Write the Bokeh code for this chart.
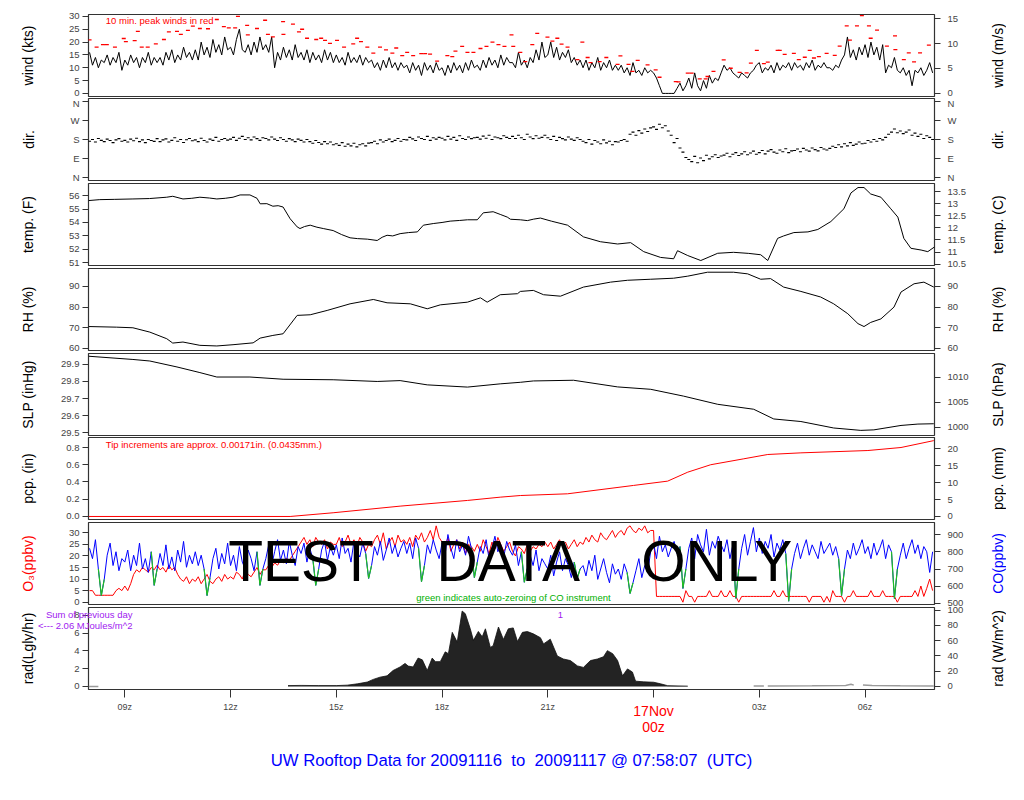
import numpy as np
from bokeh.plotting import figure
from bokeh.models import Range1d, LinearAxis, FixedTicker, Label, Title
from bokeh.layouts import column, row
from bokeh.embed import file_html
from bokeh.resources import INLINE

FONT = "Liberation Sans"

# ---------------- data (hours from 2009-11-16 00z) ----------------
# 5-minute grid starting 08z
wind_kts = [
    16,11,14,10,13,12,15,11,14,12,16,9,
    13,11,15,12,14,10,14,12,16,11,14,12,
    14,11,16,13,17,12,15,13,18,14,16,13,
    17,13,20,15,18,14,21,16,19,15,22,17,
    18,15,21,25,17,16,19,15,20,16,22,17,
    19,16,22,10,16,13,18,14,17,13,19,14,
    16,13,17,12,16,13,15,12,17,13,16,12,
    15,12,14,11,16,12,14,12,15,11,14,12,
    13,10,12,9,13,10,14,10,12,9,12,10,
    11,8,12,9,11,7,12,9,11,8,12,9,
    10,7,11,8,12,9,11,8,12,9,13,10,
    11,9,13,10,14,11,13,10,15,11,14,12,
    12,10,16,11,13,10,14,12,17,13,20,14,
    15,20,14,18,13,16,14,17,12,14,11,13,
    10,13,9,12,10,14,9,12,10,13,9,11,
    9,11,8,10,7,12,8,9,7,10,8,9,
    8,6,3,0,0,0,0,0,2,4,1,3,
    6,2,8,3,1,5,2,7,4,6,5,8,
    11,9,10,8,7,6,8,7,6,8,9,11,
    12,8,10,9,11,8,12,9,11,10,12,9,
    12,10,11,9,12,10,13,9,11,10,12,10,
    10,9,11,10,13,15,22,14,17,13,18,15,
    19,14,20,15,18,13,19,8,11,10,14,9,
    8,10,7,9,3,9,8,10,7,9,12,8,
]

peak_t = [8.0,8.20,8.38,8.49,8.72,8.97,9.03,9.28,9.37,9.48,9.65,9.88,10.11,10.25,10.48,10.59,
          10.79,10.93,11.13,11.36,11.61,11.81,11.95,12.13,12.21,12.47,12.49,12.75,12.98,13.06,
          13.20,13.49,13.50,13.77,13.94,14.03,14.17,14.43,14.57,14.68,14.82,15.02,15.22,15.48,
          15.59,15.70,15.88,16.05,16.24,16.41,16.59,16.70,16.87,17.01,17.18,17.41,17.52,17.66,
          17.86,18.15,18.29,18.38,18.57,18.72,18.89,19.09,19.26,19.43,19.60,19.77,19.97,20.02,
          20.22,20.36,20.56,20.70,20.99,21.13,21.27,21.39,21.56,21.84,21.98,22.13,22.21,22.47,
          22.66,22.98,23.06,23.29,23.40,23.55,23.83,24.06,24.17,24.63,24.71,24.97,25.08,25.31,
          25.48,25.53,25.70,25.99,26.19,26.44,26.64,26.76,26.93,27.13,27.24,27.52,27.58,27.72,
          27.98,28.12,28.29,28.43,28.55,28.69,28.91,29.14,29.28,29.48,29.57,29.77,29.91,30.11,
          30.16,30.34,30.62,30.85,30.86,31.10,31.24,31.39,31.56,31.81]
peak_kts = [20.9,18,19,19,18,21.4,20.2,20.6,24.2,18,18,19.3,21,24,24.2,23,
            24.6,26.2,25.3,25.2,28.8,26,25.5,25.5,30,26.5,22.8,25.3,28.5,23,
            22,28,23,27,24,25,21.5,21,21.5,20.7,19.5,20.7,18,19.3,
            21.5,20.2,18,15.7,18,17,15.7,17.7,14.7,16,14.7,15.5,15.5,15.3,
            12.6,14.7,14.3,16.5,18.3,16,16,17.5,18.3,20,19,18.3,22.8,18.3,
            16,12.4,19,23.4,21.9,20.4,21.5,19.2,18,13.2,20,14,12,12.4,
            14,11.3,14.6,11.3,8.6,12.9,11.1,9.2,6.3,4.6,4.5,7.9,7.9,5.7,
            5.7,6.6,8.6,13.1,9.8,8.2,8,11.8,16.8,11.6,12.2,16.8,16.8,15.2,
            15.6,13.2,14.1,16.8,13.8,14.3,15.6,14.8,18.4,26.3,20.8,26.3,30.3,26.3,
            21.5,24.7,18.4,22.4,17.1,13.2,15.8,12.3,15.8,18.8]

wind_dir = [
    172,180,168,185,176,170,182,175,165,178,184,172,
    176,168,182,174,186,170,178,165,180,175,171,184,
    170,178,183,168,176,188,172,180,166,179,185,174,
    178,170,186,175,168,182,176,190,172,180,185,177,
    182,190,176,186,195,180,188,178,192,184,176,188,
    185,178,192,182,175,188,180,172,184,178,170,182,
    176,168,180,170,162,175,166,158,170,160,168,155,
    160,152,165,148,158,150,162,145,155,160,150,163,
    165,172,160,178,168,175,182,170,176,185,172,180,
    178,190,183,175,192,185,180,195,176,188,182,190,
    186,178,195,182,190,176,198,185,180,192,184,188,
    190,182,196,186,200,180,192,188,184,198,190,185,
    195,185,200,188,180,205,192,184,198,186,190,200,
    188,180,195,175,190,184,178,192,182,176,188,180,
    172,165,180,158,175,168,160,178,164,172,155,170,
    168,175,180,172,205,215,200,222,210,230,218,235,
    240,228,252,236,245,220,200,165,185,140,120,95,
    85,75,100,70,92,80,105,88,98,108,95,102,
    106,115,98,110,118,104,112,122,108,116,125,110,
    118,128,112,125,132,120,115,130,122,136,118,126,
    128,135,122,138,130,125,140,132,126,142,135,130,
    138,148,142,155,145,160,150,165,152,158,168,160,
    162,175,168,180,172,185,178,190,205,215,230,212,
    220,208,215,225,200,210,195,205,185,198,190,180,
]

temp_t = [7.97,8.29,8.7,9.23,9.7,10.19,10.36,10.65,10.9,11.13,11.4,11.61,11.85,12.07,12.27,12.55,
          12.75,12.84,13.03,13.2,13.35,13.49,13.69,13.89,13.97,14.1,14.26,14.45,14.63,14.91,15.15,
          15.39,15.6,15.88,16.16,16.3,16.44,16.6,16.81,17.05,17.3,17.47,17.75,18.0,18.23,18.5,18.72,
          19.0,19.17,19.45,19.65,19.85,19.94,20.22,20.42,20.6,20.79,21.1,21.56,22.01,22.49,22.98,
          23.35,23.72,24.2,24.57,24.68,24.97,25.34,25.82,26.27,26.7,27.04,27.24,27.52,27.69,27.98,
          28.38,28.66,29.03,29.4,29.6,29.8,29.97,30.16,30.45,30.73,30.93,31.1,31.3,31.59,31.78,31.97]
temp_f = [55.63,55.7,55.72,55.75,55.78,55.88,55.95,55.75,55.8,55.88,55.82,55.75,55.8,55.88,56.05,56.05,
          55.8,55.39,55.4,55.21,55.25,55.15,54.28,53.67,53.55,53.7,53.8,53.65,53.55,53.4,53.1,
          52.86,52.8,52.76,52.66,52.9,53.05,53.0,53.17,53.25,53.3,53.8,53.92,54.0,54.1,54.15,54.2,
          54.2,54.72,54.8,54.6,54.4,54.24,54.2,54.14,54.25,54.33,54.1,53.8,52.93,52.57,52.4,
          52.5,51.83,51.4,51.3,51.9,51.54,51.17,51.71,51.78,51.7,51.6,51.17,52.82,53.0,53.25,
          53.3,53.48,54.07,55.02,56.2,56.6,56.6,56.12,55.88,55.02,54.4,52.82,52.08,51.95,51.83,52.18]

rh_t = [7.97,8.77,9.23,9.71,10.19,10.36,10.65,11.13,11.61,12.07,12.64,12.84,13.2,13.49,13.89,14.26,
        14.74,15.39,16.05,16.44,17.1,17.58,17.95,18.72,19.09,19.28,19.65,20.14,20.22,20.59,20.88,
        21.36,22.01,22.78,23.26,23.92,24.57,24.97,25.53,26.27,26.67,27.04,27.32,27.69,28.18,28.74,
        29.11,29.51,29.8,29.97,30.16,30.45,30.82,31.02,31.39,31.67,31.95]
rh_pct = [70.6,70.3,70.0,67.9,64.7,62.6,63.1,61.5,61.2,61.8,62.7,65.0,66.3,67.1,76.0,76.3,
          78.4,81.6,83.7,82.1,81.6,79.2,81.1,82.4,84.5,82.4,86.0,86.5,87.6,88.1,86.0,
          85.3,89.7,92.1,93.0,93.5,94.0,95.0,96.9,96.9,96.1,93.5,93.8,89.7,87.6,84.9,
          81.6,76.8,72.0,70.6,72.6,74.3,80.0,87.3,91.3,92.1,89.7]

slp_t = [7.97,9.23,9.71,10.48,11.13,11.61,12.55,13.49,14.91,16.16,16.81,17.58,18.72,19.65,20.22,
         20.59,21.73,22.98,23.92,24.85,25.82,26.84,27.41,28.18,29.11,29.88,30.25,31.02,31.5,31.95]
slp_inhg = [29.948,29.929,29.92,29.885,29.852,29.826,29.826,29.813,29.81,29.80,29.805,29.78,29.767,
            29.786,29.795,29.803,29.807,29.768,29.754,29.714,29.666,29.637,29.58,29.565,29.527,
            29.513,29.516,29.542,29.55,29.552]

pcp_t = [7.97,13.69,14.91,16.81,18.72,19.65,20.22,21.56,23.43,24.4,24.97,25.62,26.56,27.24,28.18,
         30.08,31.02,31.95]
pcp_in = [0,0,0.043,0.12,0.186,0.224,0.243,0.263,0.36,0.41,0.514,0.60,0.669,0.719,0.738,
          0.765,0.80,0.88]

o3_ppbv = [
    5,5,3,3,3,3,3,3,3,5,6,5,
    7,5,8,12,14,13,15,14,13,15,14,16,
    14,15,13,16,14,15,12,10,9,11,8,10,
    9,11,8,10,12,9,8,10,11,9,12,10,
    11,10,13,12,10,14,12,11,13,15,12,14,
    14,16,15,17,16,18,17,19,18,20,22,24,
    26,28,25,27,24,28,26,25,27,23,26,25,
    25,28,24,26,29,25,27,24,28,26,22,25,
    24,27,29,25,30,23,26,28,24,29,26,27,
    25,28,24,29,27,30,26,28,31,27,33,28,
    26,24,28,22,25,27,23,26,21,25,24,22,
    25,22,27,24,21,26,23,28,25,22,24,26,
    22,20,24,23,21,25,22,24,23,25,24,26,
    24,26,23,25,27,24,26,23,25,27,24,26,
    25,28,26,29,27,26,30,28,27,29,31,28,
    30,31,29,32,33,31,30,32,31,33,30,31,
    31,2.5,2.5,2.5,2.5,2.5,2.5,2.5,2.5,2.5,0,5,
    2.5,2.5,0,2.5,2.5,2.5,2.5,5,2.5,2.5,2.5,5,
    2.5,2.5,5,2.5,2.5,0,2.5,2.5,2.5,2.5,2.5,2.5,
    2.5,2.5,2.5,2.5,2.5,5,2.5,2.5,5,2.5,2.5,2.5,
    2.5,2.5,2.5,2.5,2.5,0,2.5,2.5,2.5,2.5,0,2.5,
    0,5,2.5,2.5,2.5,0,2.5,2.5,5,2.5,2.5,2.5,
    2.5,2.5,5,2.5,2.5,2.5,5,2.5,2.5,2.5,2.5,0,
    2.5,2.5,2.5,2.5,2.5,5,2.5,7,2.5,6,10,5,
]

co_ppbv = [
    820,760,870,700,546,640,780,850,720,800,690,760,
    740,810,690,780,720,850,700,760,680,800,605,700,
    790,720,840,700,770,690,810,740,860,710,780,730,
    800,720,780,700,546,650,760,820,700,790,730,850,
    720,780,690,830,740,700,810,760,690,800,605,700,
    760,840,720,800,870,750,810,730,860,780,720,830,
    790,850,740,820,760,605,700,810,860,750,830,780,
    840,760,880,790,820,740,860,800,770,850,790,645,
    720,830,780,860,750,810,880,790,840,770,820,860,
    790,850,760,880,820,627,720,840,790,870,810,760,
    850,780,900,820,760,870,800,840,780,890,820,650,
    740,830,790,870,760,820,890,800,840,770,860,810,
    780,840,720,800,623,700,780,720,810,690,760,730,
    700,780,660,740,800,690,760,720,650,740,645,700,
    720,660,750,690,780,640,700,760,680,620,730,670,
    700,640,730,680,558,620,690,760,650,720,680,800,
    850,760,890,800,840,770,820,860,790,830,587,700,
    820,880,760,900,840,800,930,780,860,820,890,840,
    800,870,760,840,530,700,820,900,780,860,940,800,
    880,790,860,820,900,770,850,810,870,790,513,700,
    790,850,760,820,870,780,840,800,760,860,790,820,
    850,780,830,760,546,700,810,760,850,780,820,870,
    790,830,760,850,780,820,870,760,840,800,529,700,
    780,850,760,820,870,790,840,760,830,800,680,800,
]
co_zero_t = [8.333,9.833,11.333,12.833,14.417,15.917,17.417,18.917,20.333,21.833,
             23.333,24.833,26.333,27.833,29.333,30.833]

rad_t = [13.63,14.0,14.5,15.0,15.31,15.6,15.88,16.05,16.24,16.44,16.61,16.81,16.95,17.04,17.18,
         17.32,17.44,17.58,17.72,17.81,17.95,18.09,18.18,18.29,18.43,18.57,18.66,18.80,18.89,19.03,
         19.14,19.23,19.37,19.45,19.60,19.74,19.88,20.02,20.14,20.28,20.42,20.59,20.79,20.88,21.07,
         21.27,21.44,21.64,21.84,22.01,22.21,22.41,22.58,22.69,22.84,22.98,23.12,23.26,23.40,23.49,
         23.72,24.0,24.20,24.40,24.97]
rad_lgly = [0.1,0.12,0.1,0.1,0.15,0.3,0.5,0.8,1.05,1.2,1.8,2.2,2.6,2.3,2.2,
            3.2,3.0,1.8,3.2,2.8,2.8,3.9,3.7,6.1,5.0,8.5,8.2,6.5,5.2,6.2,
            5.6,6.5,4.4,4.6,6.7,5.3,6.5,6.6,5.07,6.1,6.19,5.93,5.5,4.8,5.33,
            3.44,3.1,2.92,2.32,2.15,2.92,3.1,3.35,4.04,3.7,2.92,1.2,1.98,1.63,0.6,
            0.52,0.48,0.3,0.09,0.04]
rad_night_t = [7.97,8.25,np.nan,26.84,27.13,np.nan,27.24,28.5,29.45,29.6,29.68,np.nan,29.94,30.2,31.0,31.95]
rad_night_lgly = [0,0,np.nan,0.05,0.05,np.nan,0.05,0.07,0.12,0.25,0.15,np.nan,0.18,0.12,0.08,0.06]

x_ticks = [9, 12, 15, 18, 21, 24, 27, 30]
x_tick_labels = ["09z", "12z", "15z", "18z", "21z", "", "03z", "06z"]

# ---------------- helpers ----------------
FW, FH = 846, 82
xr = Range1d(7.97, 31.97)
PURPLE = "#A020F0"


def base_fig(yr, top, bottom):
    p = figure(frame_width=FW, frame_height=FH, x_range=xr, y_range=Range1d(*yr),
               min_border_left=88, min_border_right=40, min_border_top=top, min_border_bottom=bottom,
               x_axis_location=None, y_axis_location=None, toolbar_location=None,
               output_backend="svg", title=None)
    p.grid.visible = False
    p.outline_line_color = "#333333"
    p.outline_line_width = 1.2
    p.background_fill_color = "white"
    p.border_fill_color = "white"
    return p


def style_ticks(ax, size="9.5px"):
    ax.major_label_text_font = FONT
    ax.major_label_text_font_size = size
    ax.major_tick_out = 6
    ax.major_tick_in = 0
    ax.minor_tick_out = 0
    ax.minor_tick_in = 0
    ax.axis_line_color = None
    ax.major_tick_line_color = "#333333"


def add_left(p, ticks, labels, title, als, color="black"):
    ax = LinearAxis()
    ax.ticker = FixedTicker(ticks=[float(t) for t in ticks])
    ax.major_label_overrides = {float(t): l for t, l in zip(ticks, labels)}
    style_ticks(ax)
    ax.major_label_standoff = 3
    ax.axis_label = title
    ax.axis_label_standoff = als
    ax.axis_label_text_font = FONT
    ax.axis_label_text_font_size = "14px"
    ax.axis_label_text_font_style = "normal"
    ax.axis_label_text_color = color
    p.add_layout(ax, "left")


def add_right(p, ticks, labels, rname="default"):
    ax = LinearAxis(y_range_name=rname)
    ax.ticker = FixedTicker(ticks=[float(t) for t in ticks])
    ax.major_label_overrides = {float(t): l for t, l in zip(ticks, labels)}
    style_ticks(ax)
    ax.major_label_standoff = 7
    p.add_layout(ax, "right")


def title_strip(text, top, bottom, color="black"):
    # narrow companion plot whose (left) axis title sits right of the main panel,
    # reading bottom-to-top like the reference's right-hand titles
    f = figure(frame_width=1, frame_height=FH, x_range=Range1d(0, 1), y_range=Range1d(0, 1),
               min_border_left=31, min_border_right=0, min_border_top=top, min_border_bottom=bottom,
               x_axis_location=None, y_axis_location=None, toolbar_location=None,
               output_backend="svg", title=None)
    f.grid.visible = False
    f.outline_line_color = None
    f.border_fill_color = "white"
    ax = LinearAxis(ticker=FixedTicker(ticks=[]))
    ax.major_tick_out = 0
    ax.major_tick_in = 0
    ax.minor_tick_out = 0
    ax.minor_tick_in = 0
    ax.major_label_standoff = 0
    ax.axis_line_color = None
    ax.axis_label = text
    ax.axis_label_standoff = 0
    ax.axis_label_text_font = FONT
    ax.axis_label_text_font_size = "14px"
    ax.axis_label_text_font_style = "normal"
    ax.axis_label_text_color = color
    f.add_layout(ax, "left")
    return f


def note(p, x, y, text, color="black", size="9.5px", align="left", baseline="middle"):
    p.add_layout(Label(x=x, y=y, text=text, text_color=color, text_font=FONT,
                       text_font_size=size, text_align=align, text_baseline=baseline))


grid_t = 8.0 + np.arange(len(wind_kts)) / 12.0
KT2MS = 0.514444

# borders (top, bottom) per panel, keeping the reference's panel spacing
B = [(14, 1), (1, 3), (0, 3), (0, 3), (0, 2), (0, 3), (0, 2), (1, 4)]

# 1 wind
wr = (-1.2, 30.75)
p1 = base_fig(wr, *B[0])
p1.extra_y_ranges = {"ms": Range1d(wr[0] * KT2MS, wr[1] * KT2MS)}
add_left(p1, [0, 5, 10, 15, 20, 25, 30], ["0", "5", "10", "15", "20", "25", "30"], "wind (kts)", 30)
add_right(p1, [0, 5, 10, 15], ["0", "5", "10", "15"], rname="ms")
p1.line(grid_t, wind_kts, line_color="black", line_width=1)
p1.scatter(peak_t, peak_kts, marker="dash", size=4, line_color="red", line_width=1.3)
note(p1, 8.46, 28.4, "10 min. peak winds in red", color="red")
r1 = row(p1, title_strip("wind (m/s)", *B[0]), spacing=0)

# 2 dir
dr = (-14.4, 374.4)
p2 = base_fig(dr, *B[1])
add_left(p2, [0, 90, 180, 270, 360], ["N", "E", "S", "W", "N"], "dir.", 31)
add_right(p2, [0, 90, 180, 270, 360], ["N", "E", "S", "W", "N"])
t_dir = 8.0 + np.arange(len(wind_dir)) / 12.0
p2.scatter(t_dir, wind_dir, marker="dash", size=3, line_color="black", line_width=1.1)
r2 = row(p2, title_strip("dir.", *B[1]), spacing=0)

# 3 temp
tr = (50.8, 56.9)
p3 = base_fig(tr, *B[2])
p3.extra_y_ranges = {"c": Range1d((tr[0] - 32) * 5 / 9, (tr[1] - 32) * 5 / 9)}
add_left(p3, [51, 52, 53, 54, 55, 56], ["51", "52", "53", "54", "55", "56"], "temp. (F)", 30)
add_right(p3, [10.5, 11, 11.5, 12, 12.5, 13, 13.5],
          ["10.5", "11", "11.5", "12", "12.5", "13", "13.5"], rname="c")
p3.line(temp_t, temp_f, line_color="black", line_width=1)
r3 = row(p3, title_strip("temp. (C)", *B[2]), spacing=0)

# 4 RH
rr = (59.0, 98.7)
p4 = base_fig(rr, *B[3])
add_left(p4, [60, 70, 80, 90], ["60", "70", "80", "90"], "RH (%)", 30)
add_right(p4, [60, 70, 80, 90], ["60", "70", "80", "90"])
p4.line(rh_t, rh_pct, line_color="black", line_width=1)
r4 = row(p4, title_strip("RH (%)", *B[3]), spacing=0)

# 5 SLP
sr = (29.483, 29.964)
INHG2HPA = 33.8639
p5 = base_fig(sr, *B[4])
p5.extra_y_ranges = {"hpa": Range1d(sr[0] * INHG2HPA, sr[1] * INHG2HPA)}
add_left(p5, [29.5, 29.6, 29.7, 29.8, 29.9], ["29.5", "29.6", "29.7", "29.8", "29.9"], "SLP (inHg)", 22)
add_right(p5, [1000, 1005, 1010], ["1000", "1005", "1010"], rname="hpa")
p5.line(slp_t, slp_inhg, line_color="black", line_width=1)
r5 = row(p5, title_strip("SLP (hPa)", *B[4]), spacing=0)

# 6 pcp
pr = (-0.035, 0.916)
p6 = base_fig(pr, *B[5])
p6.extra_y_ranges = {"mm": Range1d(pr[0] * 25.4, pr[1] * 25.4)}
add_left(p6, [0.0, 0.2, 0.4, 0.6, 0.8], ["0.0", "0.2", "0.4", "0.6", "0.8"], "pcp. (in)", 27)
add_right(p6, [0, 5, 10, 15, 20], ["0", "5", "10", "15", "20"], rname="mm")
p6.line(pcp_t, pcp_in, line_color="red", line_width=1)
note(p6, 8.46, 0.835, "Tip increments are approx. 0.00171in. (0.0435mm.)", color="red")
r6 = row(p6, title_strip("pcp. (mm)", *B[5]), spacing=0)

# 7 O3 / CO
orr = (-0.99, 34.45)
p7 = base_fig(orr, *B[6])
p7.extra_y_ranges = {"co": Range1d(494.2, 969.6)}
add_left(p7, [0, 5, 10, 15, 20, 25, 30], ["0", "5", "10", "15", "20", "25", "30"],
         "O\u2083(ppbv)", 30, color="red")
add_right(p7, [500, 600, 700, 800, 900], ["500", "600", "700", "800", "900"], rname="co")
t_o3 = 8.0 + np.arange(len(o3_ppbv)) / 12.0
t_co = 8.0 + np.arange(len(co_ppbv)) / 12.0
co_arr = np.array(co_ppbv, dtype=float)
mask = np.zeros(len(t_co), dtype=bool)
for z in co_zero_t:
    mask |= np.abs(t_co - z) < 0.09
co_green = np.where(mask, co_arr, np.nan)
p7.line(t_o3, o3_ppbv, line_color="red", line_width=1)
p7.line(t_co, co_arr, line_color="blue", line_width=1, y_range_name="co")
p7.line(t_co, co_green, line_color="#1FBF1F", line_width=1.2, y_range_name="co")
note(p7, 17.27, 2.0, "green indicates auto-zeroing of CO instrument", color="#00B000")
for word, xc in (("TEST", 14.0), ("DATA", 19.88), ("ONLY", 25.79)):
    note(p7, xc, 17.6, word, color="black", size="57px", align="center", baseline="middle")
r7 = row(p7, title_strip("CO(ppbv)", *B[6], color="blue"), spacing=0)

# 8 radiation
radr = (-0.34, 8.9)
LY2W = 11.63
p8 = base_fig(radr, *B[7])
p8.extra_y_ranges = {"w": Range1d(radr[0] * LY2W, radr[1] * LY2W)}
add_left(p8, [0, 2, 4, 6, 8], ["0", "2", "4", "6", "8"], "rad(Lgly/hr)", 35)
add_right(p8, [0, 20, 40, 60, 80, 100], ["0", "20", "40", "60", "80", "100"], rname="w")
p8.varea(x=rad_t, y1=0, y2=rad_lgly, fill_color="#232323")
p8.line(rad_t, rad_lgly, line_color="#111111", line_width=0.8)
p8.line(rad_night_t, rad_night_lgly, line_color="#9a9a9a", line_width=1.5)
note(p8, 21.36, 8.1, "1", color=PURPLE, align="center")

# previous-day radiation note, written across the left edge of the panel
sum_y = [8.1, 6.9]
sum_text = ["Sum of previous day", "<--- 2.06 MJoules/m^2"]
sax = LinearAxis(ticker=FixedTicker(ticks=sum_y),
                 major_label_overrides={y: s for y, s in zip(sum_y, sum_text)})
sax.major_label_text_font = FONT
sax.major_label_text_font_size = "9.5px"
sax.major_label_text_color = PURPLE
sax.major_tick_out = 0
sax.major_tick_in = 0
sax.minor_tick_out = 0
sax.minor_tick_in = 0
sax.major_tick_line_color = None
sax.axis_line_color = None
sax.major_label_standoff = -115
p8.add_layout(sax, "left")

# time axis
xa = LinearAxis(ticker=FixedTicker(ticks=x_ticks),
                major_label_overrides={t: l for t, l in zip(x_ticks, x_tick_labels)})
style_ticks(xa, "9px")
xa.major_tick_out = 8
xa.major_label_standoff = 4
p8.add_layout(xa, "below")
for txt, so in (("17Nov", -12), ("00z", -3)):
    da = LinearAxis(ticker=FixedTicker(ticks=[24]), major_label_overrides={24: txt})
    da.major_label_text_font = FONT
    da.major_label_text_font_size = "14px"
    da.major_label_text_color = "red"
    da.major_tick_out = 0
    da.major_tick_in = 0
    da.minor_tick_out = 0
    da.minor_tick_in = 0
    da.major_tick_line_color = None
    da.axis_line_color = None
    da.major_label_standoff = so
    p8.add_layout(da, "below")
p8.add_layout(Title(text="UW Rooftop Data for 20091116\u00a0 to\u00a0 20091117 @ 07:58:07\u00a0 (UTC)",
                    align="center", text_color="#0000FF", text_font=FONT,
                    text_font_size="16.7px", text_font_style="normal", standoff=22), "below")
r8 = row(p8, title_strip("rad (W/m^2)", *B[7]), spacing=0)

layout = column(r1, r2, r3, r4, r5, r6, r7, r8, spacing=0)
open("out.html", "w").write(file_html(layout, INLINE, "UW Rooftop Data"))
